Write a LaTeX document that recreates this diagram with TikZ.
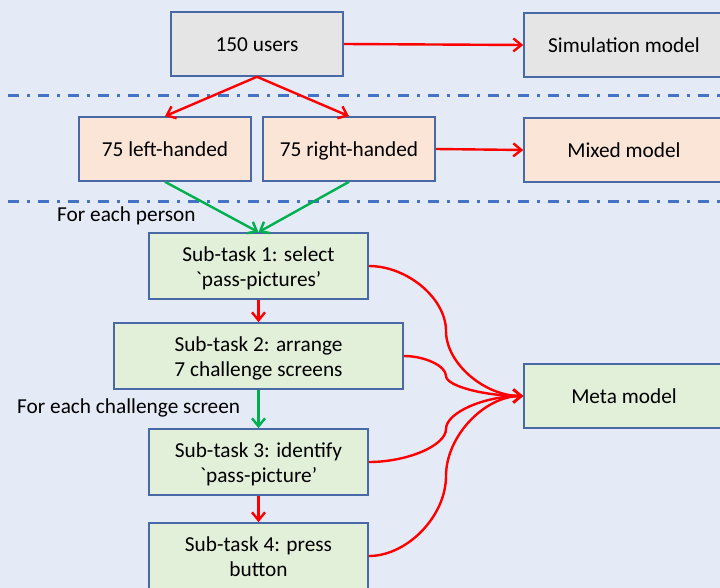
\documentclass[tikz,border=0pt]{standalone}
\usepackage{fontspec}
\setmainfont{Carlito}
\newfontfamily\gravef{Carlito}[Ligatures=TeXOff]
\usetikzlibrary{arrows.meta,calc}
\definecolor{bordblue}{RGB}{72,104,166}
\definecolor{grayfill}{RGB}{229,229,229}
\definecolor{orangefill}{RGB}{251,229,214}
\definecolor{greenfill}{RGB}{226,240,217}
\definecolor{arrred}{RGB}{255,0,0}
\definecolor{arrgreen}{RGB}{0,176,80}
\definecolor{dashblue}{RGB}{68,114,196}
\definecolor{bgtop}{RGB}{228,235,247}
\definecolor{bgmid}{RGB}{200,213,239}
\definecolor{bgbot}{RGB}{228,235,247}
\tikzset{
  box/.style={draw=bordblue, line width=1.6bp, rectangle, inner sep=0pt, minimum height=64bp},
  oneline/.style={execute at begin node={\rule{0pt}{21.4bp}}, execute at end node={\rule[-6bp]{0pt}{1bp}}},
  graybox/.style={box, oneline, fill=grayfill},
  orangebox/.style={box, oneline, fill=orangefill},
  greenbox/.style={box, fill=greenfill, minimum height=66bp, align=center,
    text height=53bp, text depth=13bp, font=\fontsize{21.3bp}{25bp}\selectfont},
  metabox/.style={box, oneline, fill=greenfill},
  redarrow/.style={draw=arrred, line width=2.4bp, -{Straight Barb[length=8bp,width=13bp]}},
  greenarrow/.style={draw=arrgreen, line width=2.4bp, -{Straight Barb[length=8bp,width=13bp]}},
  sepline/.style={draw=dashblue, line width=3bp, dash pattern=on 11bp off 8bp on 3bp off 8bp},
  lbl/.style={inner sep=0pt, anchor=base west}
}
\begin{document}
\begin{tikzpicture}[x=1bp,y=-1bp, font=\fontsize{21.3bp}{26bp}\selectfont]
\useasboundingbox (0,0) rectangle (720,588);
\shade[top color=bgtop, middle color=bgmid, bottom color=bgbot] (0,0) rectangle (720,588);

% separator lines
\coordinate (s1a) at (8,96);  \coordinate (s1b) at (720,96);
\coordinate (s2a) at (8,201); \coordinate (s2b) at (720,201);
\draw[sepline] (s1a) -- (s1b);
\draw[sepline] (s2a) -- (s2b);

% nodes
\node[graybox, minimum width=172bp] (users) at (257,44) {150 users};
\node[graybox, minimum width=200bp] (sim) at (624,45) {Simulation model};
\node[orangebox, minimum width=172bp] (left) at (165,149) {75 left-handed};
\node[orangebox, minimum width=172bp] (right) at (349,149) {75 right-handed};
\node[orangebox, minimum width=200bp] (mixed) at (624,150) {Mixed model};
\node[greenbox, minimum width=219bp] (sub1) at (258.5,266) {Sub-task 1: select\\{\gravef`}pass-pictures’};
\node[greenbox, minimum width=289bp] (sub2) at (258.5,356) {Sub-task 2: arrange\\7 challenge screens};
\node[greenbox, minimum width=219bp] (sub3) at (258.5,462) {Sub-task 3: identify\\{\gravef`}pass-picture’};
\node[greenbox, minimum width=219bp] (sub4) at (258.5,556) {Sub-task 4: press\\button};
\node[metabox, minimum width=200bp] (meta) at (624,396) {Meta model};

\node[lbl] (lp) at (57,221) {For each person};
\node[lbl] (lc) at (17,413) {For each challenge screen};

% straight connectors
\draw[redarrow] (users.east) -- (sim.west);
\draw[redarrow] (users.south) -- (left.north);
\draw[redarrow] (users.south) -- (right.north);
\draw[redarrow] (right.east) -- (mixed.west);
\draw[greenarrow] (left.south) -- (sub1.north);
\draw[greenarrow] (right.south) -- (sub1.north);
\draw[redarrow] (sub1.south) -- (sub2.north);
\draw[greenarrow] (sub2.south) -- (sub3.north);
\draw[redarrow] (sub3.south) -- (sub4.north);

% curved connectors
\foreach \s in {sub1,sub2,sub3,sub4}{
  \draw[redarrow] let \p1=(\s.east), \p2=(meta.west), \n1={446bp} in
    (\p1) .. controls ({(\x1+\n1)/2},\y1) and (\n1,{\y1+(\y2-\y1)/4}) ..
    (\n1,{(\y1+\y2)/2}) .. controls (\n1,{\y1+3*(\y2-\y1)/4}) and ({(\n1+\x2)/2},\y2) .. (\p2);
}
\end{tikzpicture}
\end{document}
